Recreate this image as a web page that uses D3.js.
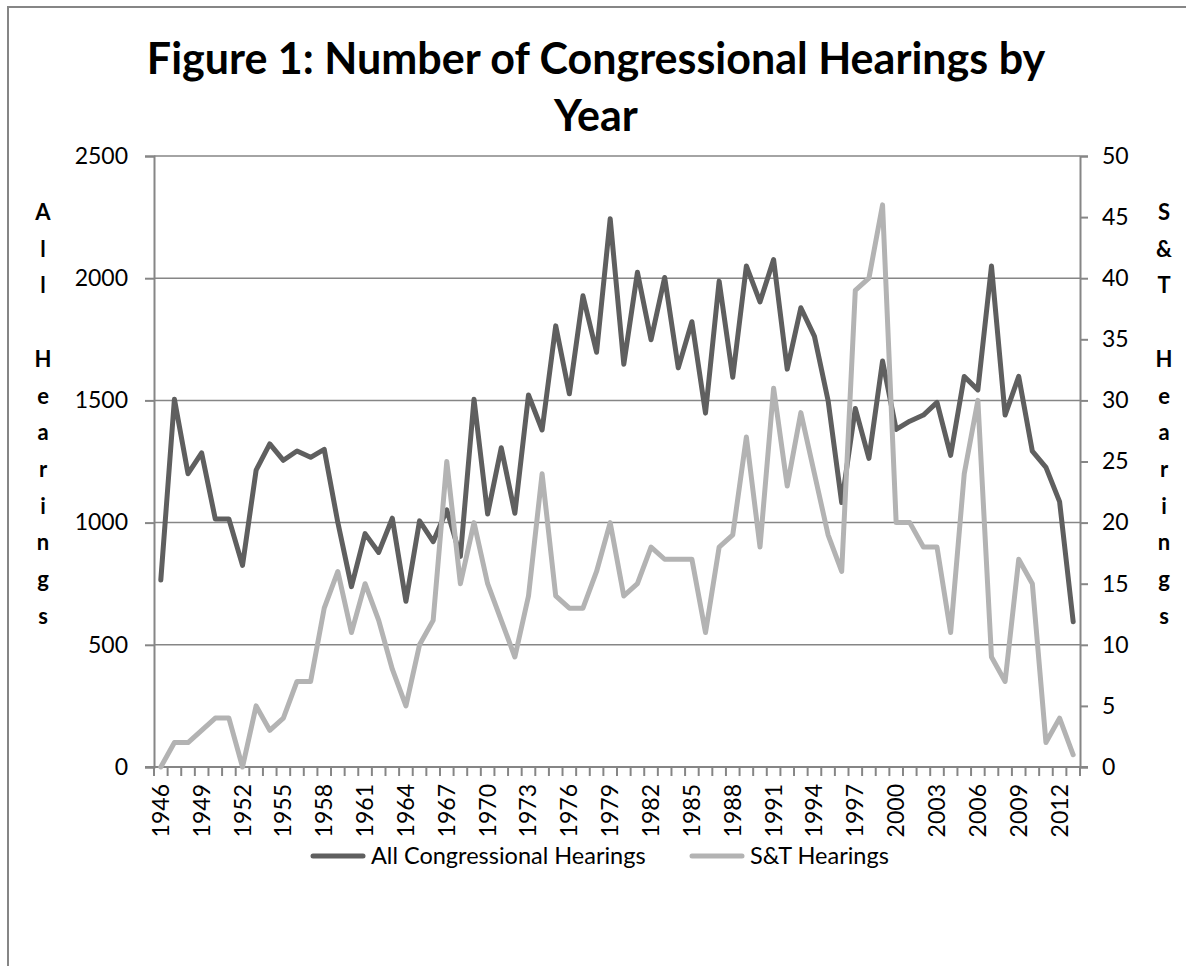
<!DOCTYPE html>
<html>
<head>
<meta charset="UTF-8">
<title>Figure 1</title>
<script src="https://cdn.jsdelivr.net/npm/d3@7"></script>
<style>
  body { margin: 0; background: #fff; }
  svg { display: block; font-family: Lato, "Open Sans", sans-serif; }
</style>
</head>
<body>
<div id="chart"></div>
<script>
// data
var years = d3.range(1946, 2014);
var allHearings = [765, 1505, 1200, 1285, 1015, 1015, 825, 1215, 1322, 1255, 1293, 1267, 1300, 1000, 738, 955, 878, 1018, 678, 1007, 922, 1052, 862, 1505, 1035, 1306, 1038, 1522, 1379, 1805, 1527, 1928, 1697, 2243, 1648, 2024, 1748, 2003, 1633, 1822, 1448, 1988, 1595, 2050, 1903, 2076, 1628, 1879, 1762, 1500, 1082, 1467, 1263, 1661, 1381, 1415, 1440, 1492, 1275, 1598, 1543, 2050, 1440, 1598, 1292, 1226, 1086, 594];
var stHearings = [0, 2, 2, 3, 4, 4, 0, 5, 3, 4, 7, 7, 13, 16, 11, 15, 12, 8, 5, 10, 12, 25, 15, 20, 15, 12, 9, 14, 24, 14, 13, 13, 16, 20, 14, 15, 18, 17, 17, 17, 11, 18, 19, 27, 18, 31, 23, 29, 24, 19, 16, 39, 40, 46, 20, 20, 18, 18, 11, 24, 30, 9, 7, 17, 15, 2, 4, 1];
var leftTicks = [0, 500, 1000, 1500, 2000, 2500];
var rightTicks = [0, 5, 10, 15, 20, 25, 30, 35, 40, 45, 50];
var yearLabels = years.filter(function (d, i) { return i % 3 === 0; });
var seriesNames = ["All Congressional Hearings", "S&T Hearings"];
var leftTitle = ["A", "l", "l", "", "H", "e", "a", "r", "i", "n", "g", "s"];
var rightTitle = ["S", "&", "T", "", "H", "e", "a", "r", "i", "n", "g", "s"];

var W = 1186, H = 966;
var plotL = 154, plotR = 1080, plotT = 156, plotB = 767;
var axisCol = "#868686", darkCol = "#5f5f5f", lightCol = "#b3b3b3";

var svg = d3.select("#chart").append("svg")
    .attr("width", W)
    .attr("height", H);

// chart frame (cut off at right and bottom in the original)
svg.append("rect")
    .attr("x", 8).attr("y", 7)
    .attr("width", W + 20).attr("height", H + 20)
    .attr("fill", "none").attr("stroke", axisCol).attr("stroke-width", 2);

var x = d3.scaleBand().domain(years).range([plotL, plotR]);
var yL = d3.scaleLinear().domain([0, 2500]).range([plotB, plotT]);
var yR = d3.scaleLinear().domain([0, 50]).range([plotB, plotT]);
var cx = function (d) { return x(d) + x.bandwidth() / 2; };

// gridlines
svg.append("g").selectAll("line")
    .data(leftTicks.slice(1))
    .enter().append("line")
    .attr("x1", plotL).attr("x2", plotR)
    .attr("y1", function (d) { return yL(d); })
    .attr("y2", function (d) { return yL(d); })
    .attr("stroke", axisCol).attr("stroke-width", 1.5);

// left axis
var gL = svg.append("g")
    .attr("transform", "translate(" + plotL + ",0)")
    .call(d3.axisLeft(yL).tickValues(leftTicks).tickFormat(d3.format("d"))
      .tickSizeOuter(0).tickSize(9).tickPadding(17));
// right axis
var gR = svg.append("g")
    .attr("transform", "translate(" + plotR + ",0)")
    .call(d3.axisRight(yR).tickValues(rightTicks).tickFormat(d3.format("d"))
      .tickSizeOuter(0).tickSize(8).tickPadding(14));
[gL, gR].forEach(function (g) {
  g.select(".domain").attr("stroke", axisCol).attr("stroke-width", 2);
  g.selectAll(".tick line").attr("stroke", axisCol).attr("stroke-width", 2);
  g.selectAll(".tick text").attr("font-size", 23).attr("fill", "#000").attr("font-family", "Lato");
});

// category axis: ticks between categories
var bounds = years.map(function (d) { return x(d); }).concat([plotR]);
svg.append("g").selectAll("line")
    .data(bounds)
    .enter().append("line")
    .attr("x1", function (d) { return d; }).attr("x2", function (d) { return d; })
    .attr("y1", plotB).attr("y2", plotB + 9)
    .attr("stroke", axisCol).attr("stroke-width", 2);
svg.append("line")
    .attr("x1", plotL - 9).attr("x2", plotR + 8)
    .attr("y1", plotB).attr("y2", plotB)
    .attr("stroke", axisCol).attr("stroke-width", 2);

svg.append("g").selectAll("text")
    .data(yearLabels)
    .enter().append("text")
    .attr("transform", function (d) { return "translate(" + (cx(d) + 8) + "," + 784 + ") rotate(-90)"; })
    .attr("text-anchor", "end")
    .attr("font-size", 23)
    .text(function (d) { return d; });

// lines
var lineL = d3.line().x(function (d, i) { return cx(years[i]); }).y(function (d) { return yL(d); });
var lineR = d3.line().x(function (d, i) { return cx(years[i]); }).y(function (d) { return yR(d); });
svg.append("path").datum(allHearings)
    .attr("d", lineL).attr("fill", "none")
    .attr("stroke", darkCol).attr("stroke-width", 5)
    .attr("stroke-linejoin", "round").attr("stroke-linecap", "round");
svg.append("path").datum(stHearings)
    .attr("d", lineR).attr("fill", "none")
    .attr("stroke", lightCol).attr("stroke-width", 5)
    .attr("stroke-linejoin", "round").attr("stroke-linecap", "round");

// title
var title = svg.append("text")
    .attr("text-anchor", "middle")
    .attr("font-weight", "bold")
    .attr("font-size", 43);
title.append("tspan").attr("x", 596).attr("y", 74).text("Figure 1: Number of Congressional Hearings by");
title.append("tspan").attr("x", 596).attr("y", 131).text("Year");

// stacked axis titles
function stacked(letters, xPos) {
  svg.append("g").selectAll("text")
      .data(letters)
      .enter().append("text")
      .attr("x", xPos)
      .attr("y", function (d, i) { return 220 + i * 36.7; })
      .attr("text-anchor", "middle")
      .attr("font-weight", "bold")
      .attr("font-size", 22)
      .text(function (d) { return d; });
}
stacked(leftTitle, 43);
stacked(rightTitle, 1164);

// legend
var legendX = [313, 692];
var legend = svg.append("g").selectAll("g")
    .data(seriesNames)
    .enter().append("g")
    .attr("transform", function (d, i) { return "translate(" + legendX[i] + ",856)"; });
legend.append("line")
    .attr("x1", 0).attr("x2", 50)
    .attr("stroke", function (d, i) { return i === 0 ? darkCol : lightCol; })
    .attr("stroke-width", 5).attr("stroke-linecap", "round");
legend.append("text")
    .attr("x", 58).attr("dy", "0.35em")
    .attr("font-size", 23.5)
    .text(function (d) { return d; });
</script>
</body>
</html>
